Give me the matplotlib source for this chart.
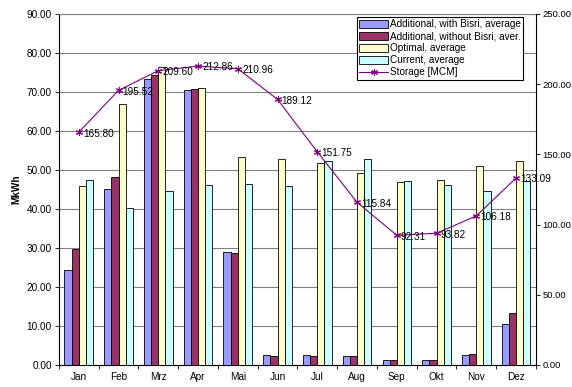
import matplotlib
matplotlib.use("Agg")
import matplotlib.pyplot as plt
import numpy as np

plt.rcParams['font.family'] = ['Liberation Sans', 'DejaVu Sans']

months = ["Jan", "Feb", "Mrz", "Apr", "Mai", "Jun", "Jul", "Aug", "Sep", "Okt", "Nov", "Dez"]
with_bisri = [24.3, 45.0, 73.2, 70.6, 28.9, 2.5, 2.5, 2.2, 1.2, 1.2, 2.6, 10.5]
without_bisri = [29.8, 48.2, 74.4, 70.8, 28.7, 2.2, 2.4, 2.2, 1.2, 1.2, 2.7, 13.2]
optimal = [46.0, 67.0, 76.5, 71.1, 53.2, 52.8, 51.8, 49.3, 46.8, 47.4, 51.0, 52.2]
current = [47.3, 40.3, 44.5, 46.1, 46.3, 46.0, 52.2, 52.9, 47.2, 46.1, 44.5, 47.1]
storage = [165.80, 195.52, 209.60, 212.86, 210.96, 189.12, 151.75, 115.84, 92.31, 93.82, 106.18, 133.09]

series = [
    ("Additional, with Bisri, average", with_bisri, "#9999FF"),
    ("Additional, without Bisri, aver.", without_bisri, "#993366"),
    ("Optimal, average", optimal, "#FFFFCC"),
    ("Current, average", current, "#CCFFFF"),
]

FS = 7.2
fig = plt.figure(figsize=(5.72, 3.87), dpi=100)
ax = fig.add_axes([0.103, 0.057, 0.834, 0.907])
x = np.arange(len(months))
bw = 0.18
handles = []
for i, (name, vals, col) in enumerate(series):
    h = ax.bar(x + (i - 1.5) * bw, vals, width=bw, color=col, edgecolor="black",
               linewidth=0.6, label=name, zorder=3)
    handles.append(h)

ax.set_xlim(-0.5, 11.5)
ax.set_ylim(0, 90)
ax.set_yticks(np.arange(0, 91, 10))
ax.set_yticklabels([f"{v:.2f}" for v in np.arange(0, 91, 10)], fontsize=FS)
ax.yaxis.grid(True, color="#808080", linewidth=0.8, zorder=0)
ax.set_xticks(x)
ax.set_xticklabels(months, fontsize=FS)
ax.set_xticks(np.arange(-0.5, 12, 1), minor=True)
ax.tick_params(axis="x", which="major", length=0, pad=5)
ax.tick_params(axis="x", which="minor", length=3, direction="out", width=0.6)
ax.tick_params(axis="y", length=3, direction="out", width=0.6, pad=2)
ax.set_ylabel("MkWh", fontsize=FS, fontweight="bold", labelpad=4)
for s in ["left", "bottom"]:
    ax.spines[s].set_color("black")
    ax.spines[s].set_linewidth(0.8)
ax.spines["top"].set_color("#808080")
ax.spines["right"].set_visible(False)

ax2 = ax.twinx()
ax2.set_ylim(0, 250)
ax2.set_yticks(np.arange(0, 251, 50))
ax2.set_yticklabels([f"{v:.2f}" for v in np.arange(0, 251, 50)], fontsize=6.8)
ax2.tick_params(axis="y", length=3, direction="out", width=0.6, pad=1.5)
for s in ["left", "bottom", "top"]:
    ax2.spines[s].set_visible(False)
ax2.spines["right"].set_color("black")
ax2.spines["right"].set_linewidth(0.8)
line, = ax2.plot(x, storage, color="#800080", linewidth=0.8, marker=(6, 2, 0),
                 markersize=5, markeredgewidth=0.8, label="Storage [MCM]", zorder=5)
for xi, v in zip(x, storage):
    ax2.annotate(f"{v:.2f}", (xi, v), xytext=(3, -1), textcoords="offset points",
                 fontsize=FS, va="center", ha="left", color="black", zorder=6)

leg = ax2.legend(handles + [line], [s[0] for s in series] + ["Storage [MCM]"],
                 loc="upper right", bbox_to_anchor=(0.978, 0.997), fontsize=FS,
                 frameon=True, fancybox=False, edgecolor="black", framealpha=1,
                 handlelength=2.9, handleheight=0.8, handletextpad=0.2,
                 labelspacing=0.2, borderpad=0.25, borderaxespad=0.2)
leg.get_frame().set_linewidth(0.8)

fig.savefig("out.png", dpi=100)
